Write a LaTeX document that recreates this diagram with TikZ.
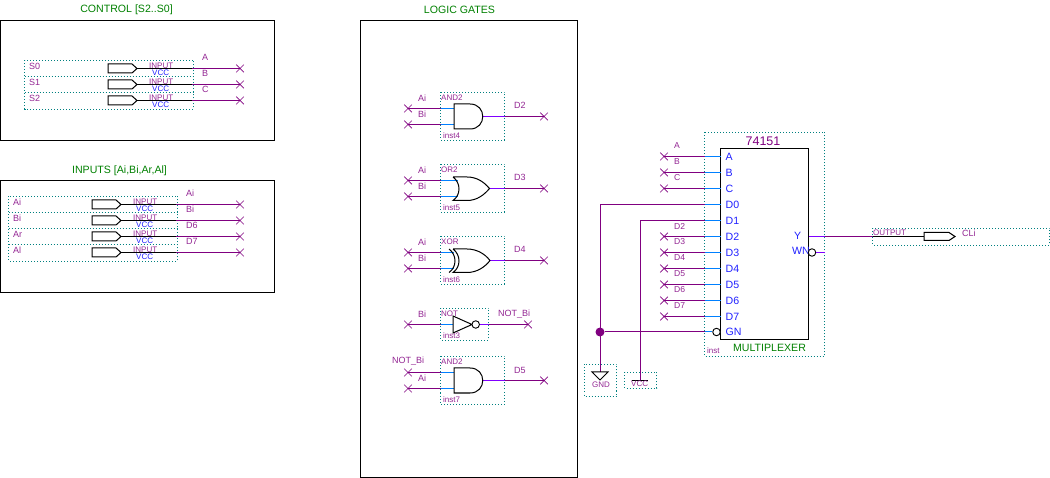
\documentclass[tikz,border=0pt]{standalone}
\usepackage{fontspec}
\setmainfont{Liberation Sans}
\usetikzlibrary{shapes.misc}
\definecolor{netpurple}{HTML}{800080}
\definecolor{pinblue}{HTML}{0080FF}
\definecolor{outviolet}{HTML}{8000FF}
\definecolor{dotteal}{HTML}{008080}
\definecolor{labelblue}{HTML}{2020FF}
\definecolor{titlegreen}{HTML}{008000}
\tikzset{
  frame/.style={draw=black, line width=1pt},
  dotbox/.style={draw=dotteal, line width=0.9pt, dash pattern=on 1pt off 2pt},
  gate/.style={draw=black, line width=1pt},
  wire/.style={draw=netpurple, line width=1pt},
  bwire/.style={draw=black, line width=1pt},
  pinwire/.style={draw=pinblue, line width=1pt},
  outwire/.style={draw=outviolet, line width=1pt},
  xmark/.style={cross out, draw=netpurple, line width=0.7pt, inner sep=0pt, minimum size=7pt},
  bubble/.style={circle, draw=black, line width=0.9pt, fill=white, inner sep=0pt, minimum size=7.5pt},
  lab/.style={text=netpurple!85, font=\fontsize{8}{9}\selectfont, inner sep=0pt, anchor=west},
  netlab/.style={text=netpurple!85, font=\fontsize{9}{10}\selectfont, inner sep=0pt, anchor=west},
  vcclab/.style={text=labelblue, font=\fontsize{8}{9}\selectfont, inner sep=0pt, anchor=west},
  title/.style={text=titlegreen, font=\fontsize{10.6}{12}\selectfont, inner sep=0pt},
  pinlab/.style={text=labelblue, font=\fontsize{10.6}{13}\selectfont, inner sep=0pt, anchor=west},
}
\begin{document}
\begin{tikzpicture}[x=1pt,y=-1pt]
  \useasboundingbox (0,0) rectangle (1050,478);
  % group frames
  \draw[frame] (0,20.5) rectangle (274,141);
  \draw[frame] (0,181) rectangle (274,293);
  \draw[frame] (360.5,20.5) rectangle (577.5,477);
  \node[title] (tcontrol) at (126.5,10) {CONTROL [S2..S0]};
  \node[title] (tinputs) at (119.5,170.5) {INPUTS [Ai,Bi,Ar,Al]};
  \node[title] (tgates) at (459.5,10) {LOGIC GATES};

  % control inputs
  \draw[dotbox] (24.5,60.5) rectangle (193.5,109);
  \draw[dotbox] (24.5,76.5) -- (193.5,76.5);
  \draw[dotbox] (24.5,92.5) -- (193.5,92.5);
  \foreach \pname/\net/\y in {S0/A/68.5, S1/B/84.5, S2/C/100.5} {
    \node[xmark] (x\pname) at (240,\y) {};
    \coordinate (o\pname) at (137,\y);
    \coordinate (m\pname) at (192,\y);
    \draw[gate] (108,\y-4.5) -- (132,\y-4.5) -- (o\pname) -- (132,\y+4.5) -- (108,\y+4.5) -- cycle;
    \draw[bwire] (o\pname) -- (m\pname);
    \draw[wire] (m\pname) -- (x\pname.center);
    \node[netlab] at (29,\y-2.5) {\pname};
    \node[lab] at (149,\y-3) {INPUT};
    \node[vcclab] at (152,\y+4) {VCC};
    \node[netlab] at (202,\y-11) {\net};
  }

  % data inputs
  \draw[dotbox] (8.5,196.5) rectangle (177.5,261);
  \draw[dotbox] (8.5,212.5) -- (177.5,212.5);
  \draw[dotbox] (8.5,228.5) -- (177.5,228.5);
  \draw[dotbox] (8.5,244.5) -- (177.5,244.5);
  \foreach \pname/\net/\y in {Ai/Ai/204.5, Bi/Bi/220.5, Ar/D6/236.5, Al/D7/252.5} {
    \node[xmark] (x\pname) at (240,\y) {};
    \coordinate (o\pname) at (121,\y);
    \coordinate (m\pname) at (176,\y);
    \draw[gate] (92,\y-4.5) -- (116,\y-4.5) -- (o\pname) -- (116,\y+4.5) -- (92,\y+4.5) -- cycle;
    \draw[bwire] (o\pname) -- (m\pname);
    \draw[wire] (m\pname) -- (x\pname.center);
    \node[netlab] at (13,\y-2.5) {\pname};
    \node[lab] at (133,\y-3) {INPUT};
    \node[vcclab] at (136,\y+4) {VCC};
    \node[netlab] at (186,\y-11) {\net};
  }

  % gates: wires first
  \foreach \gid/\top/\a/\b/\o/\outx/\inx in {g4/92.5/108.5/124.5/116.5/483/454, g5/164.5/180.5/196.5/188.5/489.5/458, g6/236.5/252.5/268.5/260.5/490/454, g7/356.5/372.5/388.5/380.5/483/454} {
    \draw[dotbox] (440.5,\top) rectangle (504.5,\top+47.5);
    \node[xmark] (xa\gid) at (408,\a) {};
    \node[xmark] (xb\gid) at (408,\b) {};
    \node[xmark] (xo\gid) at (544,\o) {};
    \coordinate (ea\gid) at (440.5,\a);
    \coordinate (eb\gid) at (440.5,\b);
    \coordinate (eo\gid) at (504.5,\o);
    \draw[wire] (xa\gid.center) -- (ea\gid);
    \draw[wire] (xb\gid.center) -- (eb\gid);
    \draw[pinwire] (ea\gid) -- (\inx,\a);
    \draw[pinwire] (eb\gid) -- (\inx,\b);
    \draw[outwire] (\outx,\o) -- (eo\gid);
    \draw[wire] (eo\gid) -- (xo\gid.center);
  }
  \draw[gate] (454,104) -- (470,104) .. controls (487,104) and (487,129) .. (470,129) -- (454,129) -- cycle;
  \draw[gate] (453,177) -- (467,177) .. controls (477,177) and (484,182) .. (489.5,188.5) .. controls (484,195) and (477,200.5) .. (467,200.5) -- (453,200.5) .. controls (461,195) and (461,183) .. (453,177);
  \draw[gate] (453,249) -- (467,249) .. controls (477,249) and (485,254) .. (490,260.5) .. controls (485,267) and (477,272.5) .. (467,272.5) -- (453,272.5) .. controls (461,267) and (461,255) .. (453,249);
  \draw[gate] (449,249) .. controls (457,255) and (457,267) .. (449,272.5);
  \draw[gate] (454,368) -- (470,368) .. controls (487,368) and (487,393) .. (470,393) -- (454,393) -- cycle;

  % inverter
  \draw[dotbox] (440.5,308.5) rectangle (488.5,340);
  \node[xmark] (xan) at (408,324.5) {};
  \node[xmark] (xon) at (528,324.5) {};
  \coordinate (ean) at (440.5,324.5);
  \coordinate (eon) at (488.5,324.5);
  \draw[wire] (xan.center) -- (ean);
  \draw[pinwire] (ean) -- (453,324.5);
  \draw[gate] (453,316) -- (472,324.5) -- (453,333) -- cycle;
  \node[bubble] (bn) at (475.7,324.5) {};
  \draw[outwire] (bn) -- (eon);
  \draw[wire] (eon) -- (xon.center);

  % gate labels
  \foreach \txt/\lx/\ly in {AND2/441/97.5, inst4/443/135.5, OR2/441/169.5, inst5/443/207.5,
      XOR/441/241.5, inst6/443/279.5, NOT/441/313.5, inst3/443/335.5, AND2/441/361.5, inst7/443/399.5}
    \node[lab] at (\lx,\ly) {\txt};
  \foreach \txt/\lx/\ly in {Ai/418/98.5, Bi/418/114, D2/514/105.5,
      Ai/418/170.5, Bi/418/186.5, D3/514/177.5,
      Ai/418/242.5, Bi/418/258.5, D4/514/249.5,
      Bi/418/314.5, {NOT\_Bi}/498/314,
      {NOT\_Bi}/392/361, Ai/418/378.5, D5/514/370}
    \node[netlab] at (\lx,\ly) {\txt};

  % multiplexer
  \draw[dotbox] (704.5,132.5) rectangle (824.5,356.5);
  \draw[gate] (720.5,148.5) rectangle (808.5,340);
  \node[text=netpurple, font=\fontsize{12.5}{14}\selectfont, inner sep=0pt] (mname) at (763,141) {74151};
  \node[title] (mtype) at (769.5,347.5) {MULTIPLEXER};
  \node[lab] (minst) at (707,351) {inst};
  \foreach \pin/\net/\y in {A/A/156.5, B/B/172.5, C/C/188.5, D2/D2/236.5, D3/D3/252.5, D4/D4/268.5, D5/D5/284.5, D6/D6/300.5, D7/D7/316.5} {
    \node[xmark] (x\pin m) at (664,\y) {};
    \coordinate (e\pin) at (704.5,\y);
    \draw[wire] (x\pin m.center) -- (e\pin);
    \draw[pinwire] (e\pin) -- (720.5,\y);
    \node[pinlab] at (725.5,\y) {\pin};
    \node[netlab, font=\fontsize{8.6}{10}\selectfont] at (674,\y-10.5) {\net};
  }
  \node[pinlab] at (725.5,204.5) {D0};
  \node[pinlab] at (725.5,220.5) {D1};
  \node[pinlab] at (725.5,331.5) {GN};
  \node[pinlab, anchor=east] at (801.5,235.5) {Y};
  \node[pinlab, anchor=east] at (810,251) {WN};

  % supply
  \coordinate (eD0) at (704.5,204.5);
  \coordinate (eD1) at (704.5,220.5);
  \coordinate (eGN) at (704.5,332);
  \coordinate (cD0) at (600,204.5);
  \coordinate (cD1) at (640,220.5);
  \coordinate (gndtop) at (600,372);
  \coordinate (vcctop) at (640,380);
  \node[circle, fill=netpurple, inner sep=0pt, minimum size=9pt] (jn) at (600,332) {};
  \node[bubble] (bgn) at (716.5,332) {};
  \draw[wire] (eD0) -- (cD0) -- (gndtop);
  \draw[wire] (eD1) -- (cD1) -- (vcctop);
  \draw[wire] (jn) -- (eGN);
  \draw[pinwire] (eD0) -- (720.5,204.5);
  \draw[pinwire] (eD1) -- (720.5,220.5);
  \draw[pinwire] (eGN) -- (bgn);
  \draw[dotbox] (584.5,364.5) rectangle (616.5,396.5);
  \draw[dotbox] (624.5,372.5) rectangle (656.5,388.5);
  \draw[gate] (592,372) -- (608,372) -- (600,380) -- cycle;
  \draw[gate] (632,380.5) -- (648,380.5);
  \node[lab] (gndlab) at (592,385) {GND};
  \node[lab] (vcclab) at (631,384) {VCC};

  % output
  \draw[dotbox] (872.5,228.5) rectangle (1049.5,245);
  \node[bubble] (bwn) at (812,252.5) {};
  \coordinate (ewn) at (824.5,252.5);
  \coordinate (ey) at (824.5,236.5);
  \coordinate (my) at (872.5,236.5);
  \coordinate (oy) at (924,236.5);
  \draw[outwire] (bwn) -- (ewn);
  \draw[outwire] (808.5,236.5) -- (ey);
  \draw[wire] (ey) -- (my);
  \draw[bwire] (my) -- (oy);
  \draw[gate] (oy) -- (924,232.5) -- (949,232.5) -- (955,236.5) -- (949,240.5) -- (924,240.5) -- cycle;
  \node[lab] (outlab) at (873,233) {OUTPUT};
  \node[netlab] (clilab) at (962,233.5) {CLi};
\end{tikzpicture}
\end{document}
